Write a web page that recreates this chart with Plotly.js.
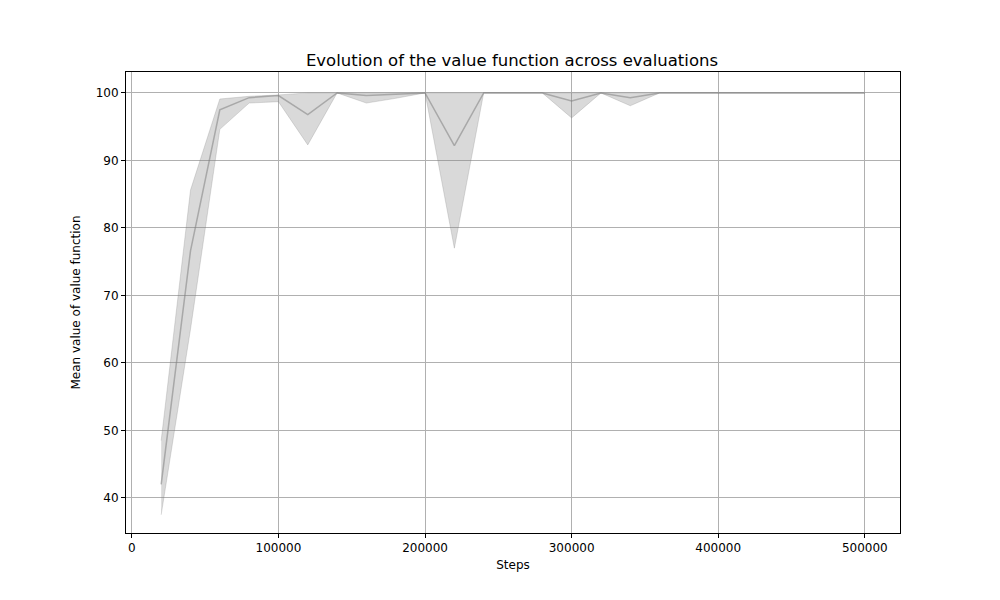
<!DOCTYPE html>
<html>
<head>
<meta charset="utf-8">
<script src="https://cdn.plot.ly/plotly-3.0.1.min.js"></script>
<style>body{margin:0;background:#fff}</style>
</head>
<body>
<div id="chart" style="width:1000px;height:600px"></div>
<script>
const steps = [20000, 40000, 60000, 80000, 100000, 120000, 140000, 160000, 180000, 200000,
  220000, 240000, 260000, 280000, 300000, 320000, 340000, 360000, 380000, 400000,
  420000, 440000, 460000, 480000, 500000];
const meanValues = [42, 76.6, 97.5, 99.3, 99.6, 96.8, 100, 99.6, 99.8, 100,
  92.2, 100, 100, 100, 98.8, 100, 99.3, 100, 100, 100, 100, 100, 100, 100, 100];
const upperValues = [48.5, 85.6, 99.1, 99.5, 99.7, 100, 100, 100, 100, 100,
  100, 100, 100, 100, 100, 100, 100, 100, 100, 100, 100, 100, 100, 100, 100];
const lowerValues = [37.5, 65, 94.6, 98.5, 98.7, 92.3, 100, 98.5, 99.2, 100,
  77, 100, 100, 100, 96.3, 100, 98.1, 100, 100, 100, 100, 100, 100, 100, 100];

const font = { family: 'DejaVu Sans, sans-serif', size: 12, color: '#000' };

const data = [
  {
    x: steps, y: upperValues, mode: 'lines', type: 'scatter',
    line: { color: 'rgba(128,128,128,0.25)', width: 1 }, hoverinfo: 'skip'
  },
  {
    x: steps, y: lowerValues, mode: 'lines', type: 'scatter', fill: 'tonexty',
    fillcolor: 'rgba(128,128,128,0.3)',
    line: { color: 'rgba(128,128,128,0.25)', width: 1 }, hoverinfo: 'skip'
  },
  {
    x: steps, y: meanValues, mode: 'lines', type: 'scatter',
    line: { color: 'rgba(128,128,128,0.55)', width: 1.5 }
  }
];

const axisStyle = {
  showline: true, mirror: true, linecolor: '#000', linewidth: 1,
  showgrid: true, gridcolor: '#b0b0b0', gridwidth: 1,
  ticks: 'outside', ticklen: 4, tickcolor: '#000',
  zeroline: false, tickfont: font
};

const layout = {
  width: 1000, height: 600,
  margin: { l: 126, r: 100, t: 72, b: 67 },
  paper_bgcolor: '#fff', plot_bgcolor: '#fff',
  showlegend: false, font: font,
  title: { text: 'Evolution of the value function across evaluations', font: { ...font, size: 16.5 }, x: 0.512, y: 0.91 },
  xaxis: {
    ...axisStyle, range: [-4000, 524000], tickvals: [0, 100000, 200000, 300000, 400000, 500000],
    ticktext: ['0', '100000', '200000', '300000', '400000', '500000'],
    title: { text: 'Steps', font: font, standoff: 6 }
  },
  yaxis: {
    ...axisStyle, range: [34.8, 103.1], tickvals: [40, 50, 60, 70, 80, 90, 100],
    title: { text: 'Mean value of value function', font: font, standoff: 12 }
  }
};

Plotly.newPlot('chart', data, layout, { displayModeBar: false, staticPlot: true });
</script>
</body>
</html>
